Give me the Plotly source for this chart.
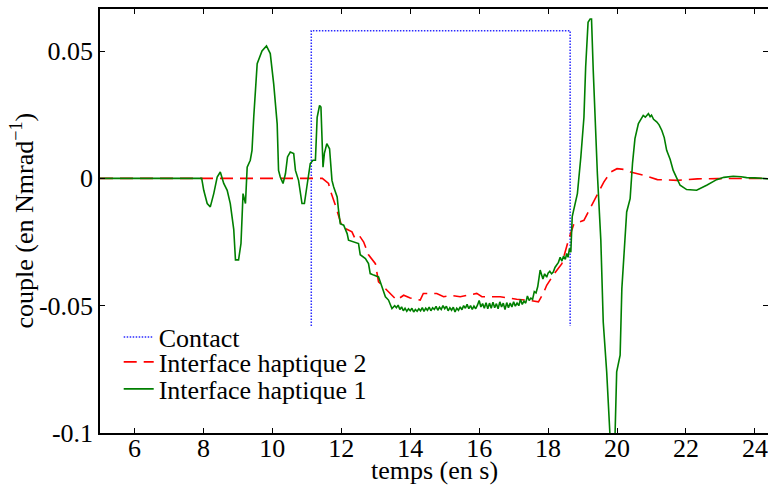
import plotly.graph_objects as go

# ---- data ----
contact_x = [11.13, 11.13, 18.64, 18.64]
contact_y = [-0.058, 0.058, 0.058, -0.058]

ih2_x = [5.0, 11.3, 11.45, 11.63, 11.68, 11.83, 11.97, 12.02, 12.31, 12.41, 12.55, 12.65,
         12.79, 12.99, 13.08, 13.32, 13.61, 13.81, 14.0, 14.29, 14.38, 14.77, 14.97, 15.2,
         15.45, 15.93, 16.08, 16.61, 17.09, 17.38, 17.72, 17.86, 17.96, 18.15, 18.40, 18.59,
         18.69, 18.75, 19.04, 19.24, 19.43, 19.62, 19.82, 20.0, 20.2, 20.39, 20.78, 21.17,
         21.75, 22.33, 22.91, 23.88, 24.38]
ih2_y = [0.0, 0.0, 0.0, -0.002, -0.0047, -0.0106, -0.0165, -0.019, -0.021, -0.024, -0.023, -0.025,
         -0.030, -0.0335, -0.0406, -0.0439, -0.0478, -0.0459, -0.047, -0.0478, -0.0452, -0.0452, -0.0465, -0.046,
         -0.0465, -0.0452, -0.0465, -0.0465, -0.0475, -0.0478, -0.0485, -0.0452, -0.042, -0.038, -0.0335, -0.0243,
         -0.0205, -0.0178, -0.0165, -0.0112, -0.006, -0.0014, 0.0025, 0.0038, 0.0035, 0.0025, 0.0012, -0.0005,
         -0.0008, -0.0002, -0.0001, -0.0002, 0.0]

ih1_x = [5.0, 7.95, 8.01, 8.11, 8.2, 8.3, 8.4, 8.49, 8.59, 8.69, 8.78, 8.88, 8.93, 9.02, 9.09,
         9.15, 9.22, 9.27, 9.36, 9.41, 9.46, 9.56, 9.70, 9.83, 9.94, 10.04, 10.14, 10.18, 10.23,
         10.31, 10.38, 10.44, 10.52, 10.62, 10.67, 10.76, 10.86, 10.93, 11.0, 11.10, 11.18, 11.25,
         11.30, 11.37, 11.41, 11.47, 11.51, 11.58, 11.66, 11.73, 11.78, 11.88, 11.92, 11.97, 12.07,
         12.17, 12.21, 12.41, 12.50, 12.55, 12.70, 12.79, 12.84, 12.94, 13.08, 13.18, 13.28, 13.37,
         13.47, 13.55, 13.6, 13.65, 13.7, 13.75, 13.8, 13.85, 13.9, 13.95, 14.0, 14.05, 14.1, 14.15,
         14.2, 14.25, 14.3, 14.35, 14.4, 14.45, 14.5, 14.55, 14.6, 14.65, 14.7, 14.75, 14.8, 14.85,
         14.9, 14.95, 15.0, 15.05, 15.1, 15.15, 15.2, 15.25, 15.3, 15.35, 15.4, 15.45, 15.5, 15.55,
         15.6, 15.65, 15.7, 15.75, 15.8, 15.85, 15.9, 15.95, 16.0, 16.05, 16.1, 16.15, 16.2, 16.25,
         16.3, 16.35, 16.4, 16.45, 16.5, 16.55, 16.6, 16.65, 16.7, 16.75, 16.8, 16.85, 16.9, 16.95,
         17.0, 17.05, 17.1, 17.15, 17.2, 17.25, 17.3, 17.35, 17.4, 17.45, 17.5, 17.55, 17.6, 17.65,
         17.7, 17.77, 17.85, 17.9, 17.96, 18.0, 18.05, 18.1, 18.15, 18.2, 18.25, 18.3, 18.35, 18.4,
         18.45, 18.5, 18.54, 18.58, 18.62, 18.66, 18.70, 18.78, 18.85, 18.95, 19.04,
         19.09, 19.16, 19.22, 19.26, 19.31, 19.43, 19.53, 19.60, 19.70, 19.80, 19.94, 19.99, 20.09,
         20.14, 20.28, 20.38, 20.45, 20.52, 20.62, 20.7, 20.76, 20.82, 20.91, 20.96, 21.0, 21.06,
         21.15, 21.22, 21.30, 21.37, 21.44, 21.54, 21.63, 21.73, 21.83, 22.02, 22.31, 22.60, 22.89,
         23.1, 23.37, 23.6, 23.76, 24.0, 24.19, 24.38]
ih1_y = [0.0, 0.0, -0.0047, -0.0099, -0.0112, -0.006, 0.0005, 0.0025, -0.002, -0.0047, -0.0099, -0.020, -0.032, -0.032, -0.0256,
         -0.006, -0.0099, 0.0044, 0.0071, 0.011, 0.024, 0.045, 0.050, 0.052, 0.049, 0.037, 0.0214, 0.0031, 0.0005,
         -0.002, 0.0018, 0.0084, 0.0103, 0.0097, 0.0031, -0.0008, -0.0099, -0.0099, -0.0034, 0.0058, 0.0071, 0.0071,
         0.024, 0.0286, 0.028, 0.0044, 0.0098, 0.0136, 0.0116, -0.0008, -0.0034, -0.0073, -0.0125, -0.0178, -0.0184,
         -0.0217, -0.0243, -0.025, -0.0256, -0.030, -0.0315, -0.0335, -0.0374, -0.038, -0.0387, -0.0426, -0.0465, -0.0478,
         -0.0511, -0.0500, -0.0508, -0.0498, -0.0515, -0.0505, -0.0520, -0.0510, -0.0522, -0.0512, -0.0520, -0.0510, -0.0525, -0.0515,
         -0.0522, -0.0512, -0.0520, -0.0508, -0.0522, -0.0510, -0.0518, -0.0506, -0.0520, -0.0508, -0.0515, -0.0503, -0.0518, -0.0506,
         -0.0515, -0.0500, -0.0512, -0.0502, -0.0520, -0.0508, -0.0518, -0.0506, -0.0525, -0.0510, -0.0518, -0.0505, -0.0516, -0.0500,
         -0.0510, -0.0495, -0.0512, -0.0500, -0.0515, -0.0502, -0.0512, -0.0498, -0.0480, -0.0505, -0.0492, -0.0510, -0.0488, -0.0512,
         -0.0490, -0.0510, -0.0486, -0.0508, -0.0492, -0.0512, -0.0485, -0.0505, -0.0490, -0.0515, -0.0488, -0.0508, -0.0490, -0.0505,
         -0.0485, -0.0502, -0.0490, -0.0500, -0.0475, -0.0495, -0.0482, -0.0490, -0.0462, -0.0480, -0.0470, -0.0475, -0.0445, -0.0450,
         -0.0425, -0.0360, -0.0395, -0.0375, -0.0388, -0.0372, -0.0365, -0.0375, -0.0368, -0.0350, -0.0340, -0.0330, -0.0310, -0.0325,
         -0.0305, -0.0318, -0.0295, -0.0310, -0.0275, -0.0290, -0.015, -0.0095, -0.006, 0.0084, 0.024,
         0.0437, 0.0613, 0.0626, 0.0626, 0.0424, 0.0018, -0.0243, -0.0564, -0.076, -0.102, -0.102, -0.076, -0.0694,
         -0.0433, -0.0132, -0.008, 0.006, 0.0156, 0.0215, 0.0235, 0.0247, 0.0240, 0.0254, 0.0242, 0.0248, 0.0232,
         0.0222, 0.0210, 0.0188, 0.0160, 0.011, 0.0075, 0.0031, 0.0002, -0.0027, -0.0044, -0.0047, -0.0027, -0.0005,
         0.0004, 0.0008, 0.0006, 0.0003, 0.0002, -0.0001, -0.0002]

x_ticks = [6, 8, 10, 12, 14, 16, 18, 20, 22, 24]
y_ticks = [0.05, 0.0, -0.05, -0.1]
y_tick_labels = ["0.05", "0", "-0.05", "-0.1"]

FONT = "Liberation Serif"
FS = 26

fig = go.Figure()
fig.add_trace(go.Scatter(x=contact_x, y=contact_y, mode="lines", name="Contact",
                         line=dict(color="#2a2aff", width=1.5, dash="1.5px,1.5px"),
                         legend="legend"))
fig.add_trace(go.Scatter(x=ih2_x, y=ih2_y, mode="lines", name="Interface haptique 2",
                         line=dict(color="#ff0000", width=1.6, dash="13px,7px"),
                         legend="legend2"))
fig.add_trace(go.Scatter(x=ih1_x, y=ih1_y, mode="lines", name="Interface haptique 1",
                         line=dict(color="#007f00", width=1.6),
                         legend="legend3"))

axis_common = dict(showline=True, linecolor="black", linewidth=1.5, mirror="ticks",
                   ticks="inside", ticklen=5, tickwidth=1.2, tickcolor="black",
                   showgrid=False, zeroline=False, automargin=False,
                   tickfont=dict(family=FONT, size=FS, color="black"))

fig.update_xaxes(range=[5, 24.38], tickvals=x_ticks, ticklabelstandoff=-9, **axis_common)
fig.update_yaxes(range=[-0.1, 0.0665], tickvals=y_ticks, ticktext=y_tick_labels, **axis_common)

leg_common = dict(x=0.028, xanchor="left", yanchor="middle",
                  bgcolor="rgba(0,0,0,0)", font=dict(family=FONT, size=FS))

fig.update_layout(
    width=768, height=486,
    margin=dict(l=100, r=0, t=9, b=53, autoexpand=False),
    plot_bgcolor="white", paper_bgcolor="white",
    showlegend=True,
    font=dict(family=FONT, size=FS, color="black"),
    legend=dict(y=0.2264, **leg_common),
    legend2=dict(y=0.1675, **leg_common),
    legend3=dict(y=0.1038, **leg_common),
    annotations=[
        dict(text="temps (en s)", xref="paper", yref="paper", x=0.5, y=-0.089,
             xanchor="center", yanchor="middle", showarrow=False,
             font=dict(family=FONT, size=FS)),
        dict(text="couple (en Nmrad<sup>−1</sup>)", xref="paper", yref="paper",
             x=-0.116, y=0.5, xanchor="center", yanchor="middle", textangle=-90,
             showarrow=False, font=dict(family=FONT, size=FS)),
    ],
)

fig.write_html("out.html", config={"displayModeBar": False},
               post_script="document.body.style.margin='0';document.body.style.overflow='hidden';")
